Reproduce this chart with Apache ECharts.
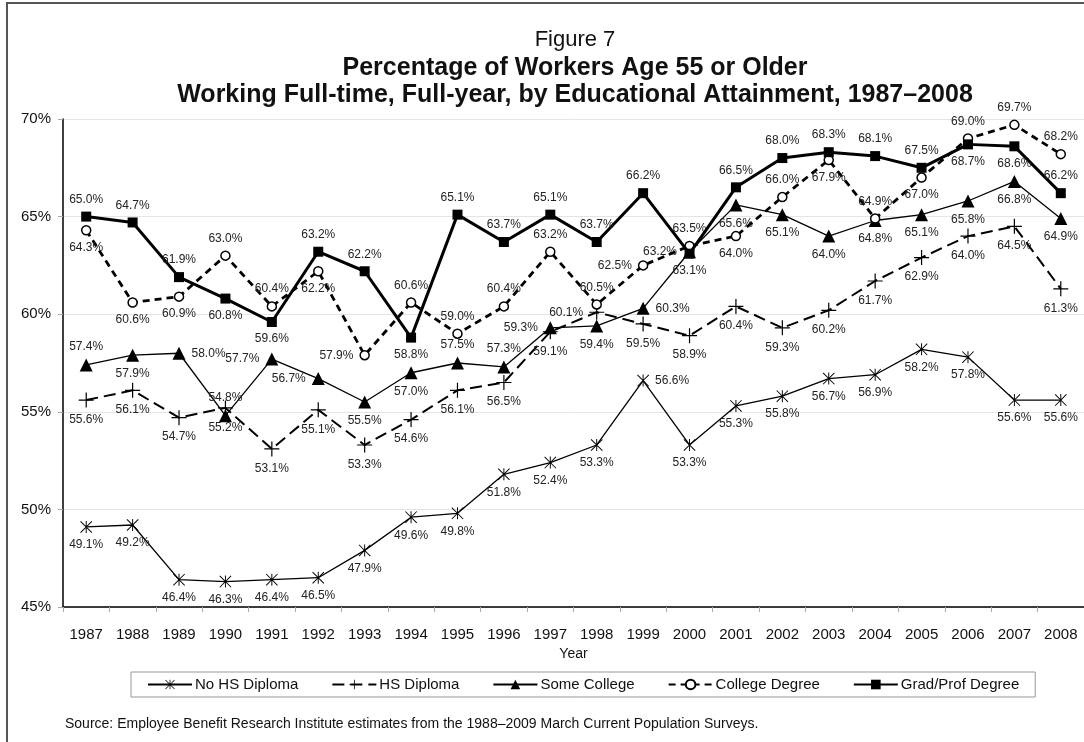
<!DOCTYPE html>
<html>
<head>
<meta charset="utf-8">
<script src="https://cdn.jsdelivr.net/npm/echarts@6/dist/echarts.min.js"></script>
<style>
html,body{margin:0;padding:0;background:#fff;}
#chart{width:1084px;height:742px;}
</style>
</head>
<body>
<div id="chart"></div>
<script>
const years = ['1987','1988','1989','1990','1991','1992','1993','1994','1995','1996','1997','1998','1999','2000','2001','2002','2003','2004','2005','2006','2007','2008'];
const noHS = [49.1,49.2,46.4,46.3,46.4,46.5,47.9,49.6,49.8,51.8,52.4,53.3,56.6,53.3,55.3,55.8,56.7,56.9,58.2,57.8,55.6,55.6];
const hsDiploma = [55.6,56.1,54.7,55.2,53.1,55.1,53.3,54.6,56.1,56.5,59.1,60.1,59.5,58.9,60.4,59.3,60.2,61.7,62.9,64.0,64.5,61.3];
const someCollege = [57.4,57.9,58.0,54.8,57.7,56.7,55.5,57.0,57.5,57.3,59.3,59.4,60.3,63.2,65.6,65.1,64.0,64.8,65.1,65.8,66.8,64.9];
const collegeDegree = [64.3,60.6,60.9,63.0,60.4,62.2,57.9,60.6,59.0,60.4,63.2,60.5,62.5,63.5,64.0,66.0,67.9,64.9,67.0,69.0,69.7,68.2];
const gradProf = [65.0,64.7,61.9,60.8,59.6,63.2,62.2,58.8,65.1,63.7,65.1,63.7,66.2,63.1,66.5,68.0,68.3,68.1,67.5,68.7,68.6,66.2];
const yTicks = [45,50,55,60,65,70];

// label placement per point (T=top, B=bottom, L=left, R=right)
const noHSPos    = 'BBBBBBBBBBBBRBBBBBBBBB';
const hsPos      = 'BBBBBBBBBBBLBBBBBBBBBB';
const somePos    = 'TBRTLLBBTTLBRLBBBBBBBB';
const collegePos = 'BBBTTBLTTTTTLTBTBTBTTT';
const gradPos    = 'TTTBBTTBTTTTTBTTTTTBBT';

const FONT = '"Liberation Sans", Arial, sans-serif';
const posMap = {T:'top',B:'bottom',L:'left',R:'right'};

function build(values, pos) {
  return values.map((v, i) => ({ value: v, label: { position: posMap[pos[i]] } }));
}

const asterisk = 'path://M9.2,0h1.6v20h-1.6z M0,1.1L1.1,0L20,18.9L18.9,20z M18.9,0L20,1.1L1.1,20L0,18.9z';
const plus = 'path://M9.2,0h1.6v20h-1.6z M0,9.2h20v1.6h-20z';

const labelBase = {
  show: true,
  fontFamily: FONT,
  fontSize: 12,
  color: '#222',
  distance: 6,
  formatter: p => p.value.toFixed(1) + '%'
};

const chart = echarts.init(document.getElementById('chart'), null, {renderer: 'canvas'});
chart.setOption({
  backgroundColor: '#fff',
  animation: false,
  textStyle: { fontFamily: FONT },
  title: [
    { text: 'Figure 7', left: 570, textAlign: 'center', top: 24,
      textStyle: { fontFamily: FONT, fontSize: 22, fontWeight: 'normal', color: '#111' } },
    { text: 'Percentage of Workers Age 55 or Older\nWorking Full-time, Full-year, by Educational Attainment, 1987\u20132008',
      left: 570, textAlign: 'center', top: 50,
      textStyle: { fontFamily: FONT, fontSize: 25, fontWeight: 'bold', color: '#111', lineHeight: 27, align: 'center' } }
  ],
  graphic: [
    { type: 'rect', shape: { x: 7, y: 3, width: 1090, height: 760 },
      style: { fill: 'none', stroke: '#555', lineWidth: 2 }, silent: true },
    { type: 'text', left: 65, top: 717,
      style: { text: 'Source: Employee Benefit Research Institute estimates from the 1988\u20132009 March Current Population Surveys.',
               fontFamily: FONT, fontSize: 14, fill: '#111' } }
  ],
  legend: {
    left: 131, top: 672,
    orient: 'horizontal',
    itemWidth: 44, itemHeight: 12, itemGap: 33,
    padding: [5, 16, 5, 16],
    borderColor: '#999', borderWidth: 1,
    textStyle: { fontFamily: FONT, fontSize: 15, color: '#111', padding: [0,0,0,-2] },
    data: ['No HS Diploma','HS Diploma','Some College','College Degree','Grad/Prof Degree']
  },
  grid: { left: 63, right: -4, top: 119, bottom: 135, containLabel: false },
  xAxis: {
    type: 'category',
    data: years,
    boundaryGap: true,
    name: 'Year', nameLocation: 'middle', nameGap: 38,
    nameTextStyle: { fontFamily: FONT, fontSize: 14, color: '#111' },
    axisLine: { lineStyle: { color: '#000', width: 1.5 } },
    axisTick: { show: true, alignWithLabel: false, length: 5, lineStyle: { color: '#aaa' } },
    axisLabel: { fontFamily: FONT, fontSize: 15, color: '#111', margin: 20, interval: 0 },
    splitLine: { show: false }
  },
  yAxis: {
    type: 'value',
    min: yTicks[0], max: yTicks[yTicks.length - 1], interval: 5,
    axisLine: { show: true, lineStyle: { color: '#000', width: 1.5 } },
    axisTick: { show: true, length: 5, lineStyle: { color: '#aaa' } },
    axisLabel: { fontFamily: FONT, fontSize: 15, color: '#111', margin: 12, formatter: '{value}%' },
    splitLine: { show: true, lineStyle: { color: '#e4e4e4', width: 1 } }
  },
  series: [
    {
      name: 'No HS Diploma', type: 'line', data: build(noHS, noHSPos),
      symbol: asterisk, symbolSize: 12,
      itemStyle: { color: '#000' },
      lineStyle: { color: '#000', width: 1.3 },
      label: labelBase, z: 2
    },
    {
      name: 'HS Diploma', type: 'line', data: build(hsDiploma, hsPos),
      symbol: plus, symbolSize: 15,
      itemStyle: { color: '#000' },
      lineStyle: { color: '#000', width: 2, type: [12, 6] },
      label: labelBase, z: 3
    },
    {
      name: 'Some College', type: 'line', data: build(someCollege, somePos),
      symbol: 'triangle', symbolSize: 13,
      itemStyle: { color: '#000' },
      lineStyle: { color: '#000', width: 1.3 },
      label: labelBase, z: 4
    },
    {
      name: 'College Degree', type: 'line', data: build(collegeDegree, collegePos),
      symbol: 'circle', symbolSize: 9,
      itemStyle: { color: '#fff', borderColor: '#000', borderWidth: 1.5 },
      lineStyle: { color: '#000', width: 2.8, type: [7, 5] },
      label: labelBase, z: 5
    },
    {
      name: 'Grad/Prof Degree', type: 'line', data: build(gradProf, gradPos),
      symbol: 'rect', symbolSize: 10,
      itemStyle: { color: '#000' },
      lineStyle: { color: '#000', width: 3 },
      label: labelBase, z: 6
    }
  ]
});
</script>
</body>
</html>
